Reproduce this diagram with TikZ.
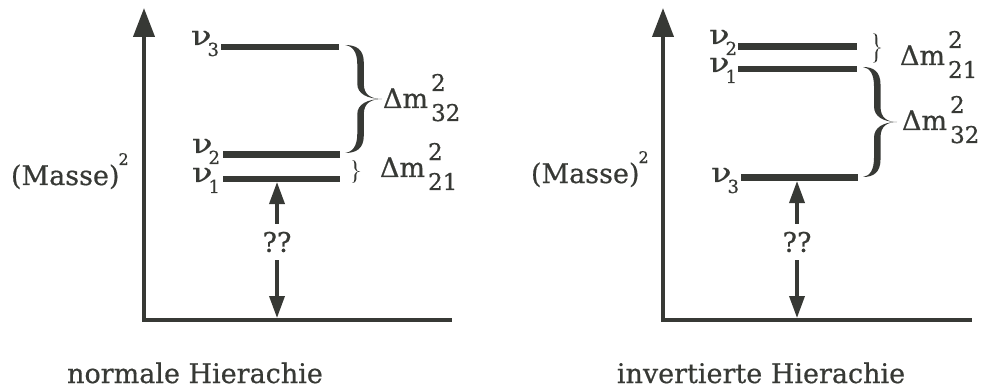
\documentclass[tikz,border=0pt]{standalone}
\usepackage{fontspec}
\setmainfont{DejaVu Serif}[FakeBold=0.6]
\usetikzlibrary{arrows.meta}
\definecolor{ink}{RGB}{55,57,53}
\newcommand{\scr}{\fontsize{23}{23}\selectfont}
\newcommand{\supsub}[2]{\kern3pt\makebox[0pt][l]{\raisebox{17pt}{\scr #1}}\raisebox{-13pt}{\scr #2}}
\newcommand{\nusub}[1]{\scalebox{1.25}[1]{ν}\kern-4pt\raisebox{-11pt}{\fontsize{18}{18}\selectfont #1}}
% calligraphic right brace: #1,#2 top-left, #3 width, #4 height, #5 thickness
\newcommand{\cbrace}[5]{%
\fill[ink,shift={(#1,#2)}] (0,0)
 .. controls ({0.3*#3},0) and ({0.42*#3+#5/2},{0.04*#4}) .. ({0.42*#3+#5/2},{0.16*#4})
 -- ({0.42*#3+#5/2},{0.36*#4})
 .. controls ({0.42*#3+#5/2},{0.46*#4}) and ({0.7*#3},{0.5*#4}) .. ({#3},{0.5*#4})
 .. controls ({0.7*#3},{0.5*#4}) and ({0.42*#3+#5/2},{0.54*#4}) .. ({0.42*#3+#5/2},{0.64*#4})
 -- ({0.42*#3+#5/2},{0.84*#4})
 .. controls ({0.42*#3+#5/2},{0.96*#4}) and ({0.3*#3},{#4}) .. (0,{#4})
 .. controls ({0.2*#3},{0.99*#4}) and ({0.42*#3-#5/2},{0.94*#4}) .. ({0.42*#3-#5/2},{0.82*#4})
 -- ({0.42*#3-#5/2},{0.64*#4})
 .. controls ({0.42*#3-#5/2},{0.55*#4}) and ({0.6*#3},{0.5*#4}) .. ({#3},{0.5*#4})
 .. controls ({0.6*#3},{0.5*#4}) and ({0.42*#3-#5/2},{0.45*#4}) .. ({0.42*#3-#5/2},{0.36*#4})
 -- ({0.42*#3-#5/2},{0.18*#4})
 .. controls ({0.42*#3-#5/2},{0.06*#4}) and ({0.2*#3},{0.01*#4}) .. (0,0) -- cycle;}
\begin{document}
\begin{tikzpicture}[x=1pt,y=-1pt,
  txt/.style={font=\fontsize{27}{31}\selectfont, text=ink, inner sep=0pt, outer sep=0pt},
  axis/.style={draw=ink, line width=4pt, line join=miter, {Triangle[width=21pt,length=29pt]}-},
  level/.style={draw=ink, line width=6pt},
  thicklevel/.style={draw=ink, line width=7pt},
  gaparrow/.style={draw=ink, line width=3.5pt, -{Triangle[width=15pt,length=22pt]}},
]
\useasboundingbox (0,0) rectangle (995,390);
% ---------- left: normal hierarchy ----------
\coordinate (A1t) at (144,8);
\coordinate (A1o) at (144,320);
\coordinate (A1r) at (452,320);
\draw[axis] (A1t) -- (A1o) -- (A1r);
\coordinate (L3w) at (221,47);  \coordinate (L3e) at (339,47);
\coordinate (L2w) at (223,155); \coordinate (L2e) at (340,155);
\coordinate (L1w) at (223,179); \coordinate (L1e) at (340,179);
\draw[level] (L3w) -- (L3e);
\draw[thicklevel] (L2w) -- (L2e);
\draw[level] (L1w) -- (L1e);
\node[txt, anchor=base east] (n3) at (219,45) {\nusub{3}};
\node[txt, anchor=base east] (n2) at (220,153) {\nusub{2}};
\node[txt, anchor=base east] (n1) at (220,182) {\nusub{1}};
\node[txt, anchor=base west] (ms1) at (11,185) {(Masse)\kern-1pt\raisebox{20pt}{\fontsize{16}{16}\selectfont 2}};
\cbrace{345}{45}{37}{108}{6.5}
\cbrace{352}{160}{8}{23}{1.8}
\node[txt, anchor=base west] (d32a) at (383,108) {Δm\supsub{2}{32}};
\node[txt, anchor=base west] (d21a) at (380,177) {Δm\supsub{2}{21}};
\node[txt, inner ysep=8pt] (q1) at (277,242) {??};
\coordinate (q1t) at (277,182);
\coordinate (q1b) at (277,318);
\draw[gaparrow] (q1) -- (q1t);
\draw[gaparrow] (q1) -- (q1b);
\node[txt, anchor=base] (c1) at (195,383) {normale Hierachie};
% ---------- right: inverted hierarchy ----------
\coordinate (A2t) at (663,8);
\coordinate (A2o) at (663,320);
\coordinate (A2r) at (972,320);
\draw[axis] (A2t) -- (A2o) -- (A2r);
\coordinate (R2w) at (738,47);  \coordinate (R2e) at (857,47);
\coordinate (R1w) at (738,69);  \coordinate (R1e) at (857,69);
\coordinate (R3w) at (741,178); \coordinate (R3e) at (858,178);
\draw[thicklevel] (R2w) -- (R2e);
\draw[level] (R1w) -- (R1e);
\draw[thicklevel] (R3w) -- (R3e);
\node[txt, anchor=base east] (m2) at (737,44) {\nusub{2}};
\node[txt, anchor=base east] (m1) at (737,72) {\nusub{1}};
\node[txt, anchor=base east] (m3) at (739,182) {\nusub{3}};
\node[txt, anchor=base west] (ms2) at (531,183) {(Masse)\kern-1pt\raisebox{20pt}{\fontsize{16}{16}\selectfont 2}};
\cbrace{873}{33}{8}{30}{1.8}
\cbrace{863}{67}{34}{110}{6.5}
\node[txt, anchor=base west] (d21b) at (900,65) {Δm\supsub{2}{21}};
\node[txt, anchor=base west] (d32b) at (902,130) {Δm\supsub{2}{32}};
\node[txt, inner ysep=8pt] (q2) at (797,242) {??};
\coordinate (q2t) at (797,181);
\coordinate (q2b) at (797,318);
\draw[gaparrow] (q2) -- (q2t);
\draw[gaparrow] (q2) -- (q2b);
\node[txt, anchor=base] (c2) at (761,383) {invertierte Hierachie};
\end{tikzpicture}
\end{document}
